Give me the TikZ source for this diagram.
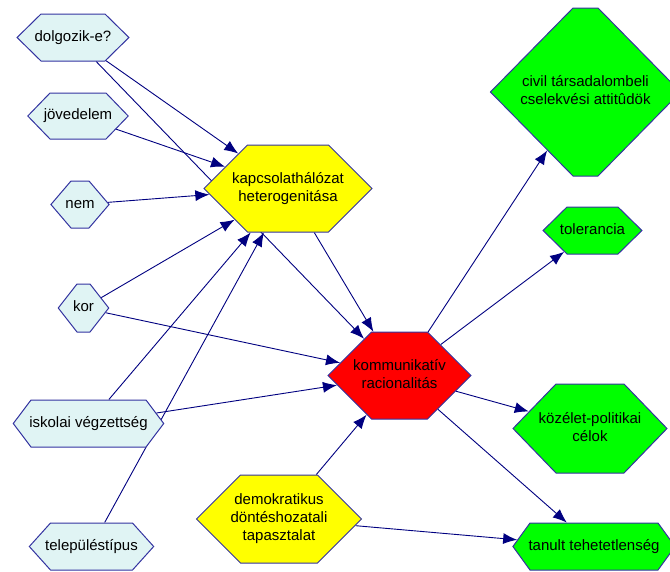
\documentclass[tikz,border=0pt]{standalone}
\usepackage{fontspec}
\setmainfont{Liberation Sans}
\usetikzlibrary{shapes.symbols,arrows.meta,backgrounds}
\definecolor{halvany}{HTML}{E0F4F4}
\definecolor{keret}{HTML}{3333A0}
\definecolor{nyil}{HTML}{000080}
\definecolor{sarga}{HTML}{FFFF00}
\definecolor{piros}{HTML}{FF0000}
\definecolor{zold}{HTML}{00FF00}
% felirat adott szelessegu dobozban (a szoveg kiloghat a csucsokba)
\newcommand\felirat[2]{\makebox[#1pt]{\begin{tabular}{@{}c@{}}#2\end{tabular}}}
\tikzset{
  hatszog/.style={shape=signal, signal to=west and east, draw=keret, line width=1pt,
    inner sep=0pt, font=\fontsize{15}{18}\selectfont},
  bemenet/.style={hatszog, fill=halvany},
  kozvetito/.style={hatszog, fill=sarga},
  kozponti/.style={hatszog, fill=piros},
  kimenet/.style={hatszog, fill=zold},
  hatas/.style={draw=nyil, line width=0.9pt, -{Latex[length=14pt,width=11pt]}}
}
\begin{document}
\begin{tikzpicture}[x=1pt,y=-1pt]
\useasboundingbox (0,0) rectangle (670,571);
% hatteregyuttesek
\node[bemenet, minimum height=47pt, signal pointer angle=89] (dolgozik) at (73,37.5) {\felirat{64}{dolgozik-e?}};
\node[bemenet, minimum height=46pt, signal pointer angle=92] (jovedelem) at (78,116) {\felirat{56}{jövedelem}};
\node[bemenet, minimum height=47pt, signal pointer angle=99] (nem) at (80,204.5) {\felirat{18}{nem}};
\node[bemenet, minimum height=48pt, signal pointer angle=104] (kor) at (83.5,308) {\felirat{13}{kor}};
\node[bemenet, minimum height=47pt, signal pointer angle=106] (iskola) at (88.5,423.5) {\felirat{115}{iskolai végzettség}};
\node[bemenet, minimum height=47pt, signal pointer angle=96] (telepules) at (91.5,546.5) {\felirat{82}{településtípus}};
% kozvetito valtozok
\node[kozvetito, minimum height=87pt, signal pointer angle=90] (halozat) at (288,188.5) {\felirat{81}{kapcsolathálózat\\heterogenitása}};
\node[kozvetito, minimum height=88pt, signal pointer angle=90] (demokr) at (279,519) {\felirat{77}{demokratikus\\döntéshozatali\\tapasztalat}};
\node[kozponti, minimum height=87pt, signal pointer angle=90] (racio) at (399.5,375.5) {\felirat{56}{kommunikatív\\racionalitás}};
% kimenetek
\node[kimenet, minimum height=168pt, signal pointer angle=91] (civil) at (585.5,92) {\felirat{25}{civil társadalombeli\\cselekvési attitûdök}};
\node[kimenet, minimum height=47pt, signal pointer angle=89] (tolerancia) at (592.5,230.5) {\felirat{51}{tolerancia}};
\node[kimenet, minimum height=89pt, signal pointer angle=92] (kozelet) at (590,428.5) {\felirat{68}{közélet-politikai\\célok}};
\node[kimenet, minimum height=47pt, signal pointer angle=108] (tanult) at (594,546.5) {\felirat{128}{tanult tehetetlenség}};
% nyilak
\begin{scope}[on background layer]
\draw[hatas] (dolgozik) -- (halozat);
\draw[hatas] (dolgozik) -- (racio);
\draw[hatas] (jovedelem) -- (halozat);
\draw[hatas] (nem) -- (halozat);
\draw[hatas] (kor) -- (halozat);
\draw[hatas] (kor) -- (racio);
\draw[hatas] (iskola) -- (halozat);
\draw[hatas] (iskola) -- (racio);
\draw[hatas] (telepules) -- (halozat);
\draw[hatas] (halozat) -- (racio);
\draw[hatas] (demokr) -- (racio);
\draw[hatas] (demokr) -- (tanult);
\draw[hatas] (racio) -- (civil);
\draw[hatas] (racio) -- (tolerancia);
\draw[hatas] (racio) -- (kozelet);
\draw[hatas] (racio) -- (tanult);
\end{scope}
\end{tikzpicture}
\end{document}
